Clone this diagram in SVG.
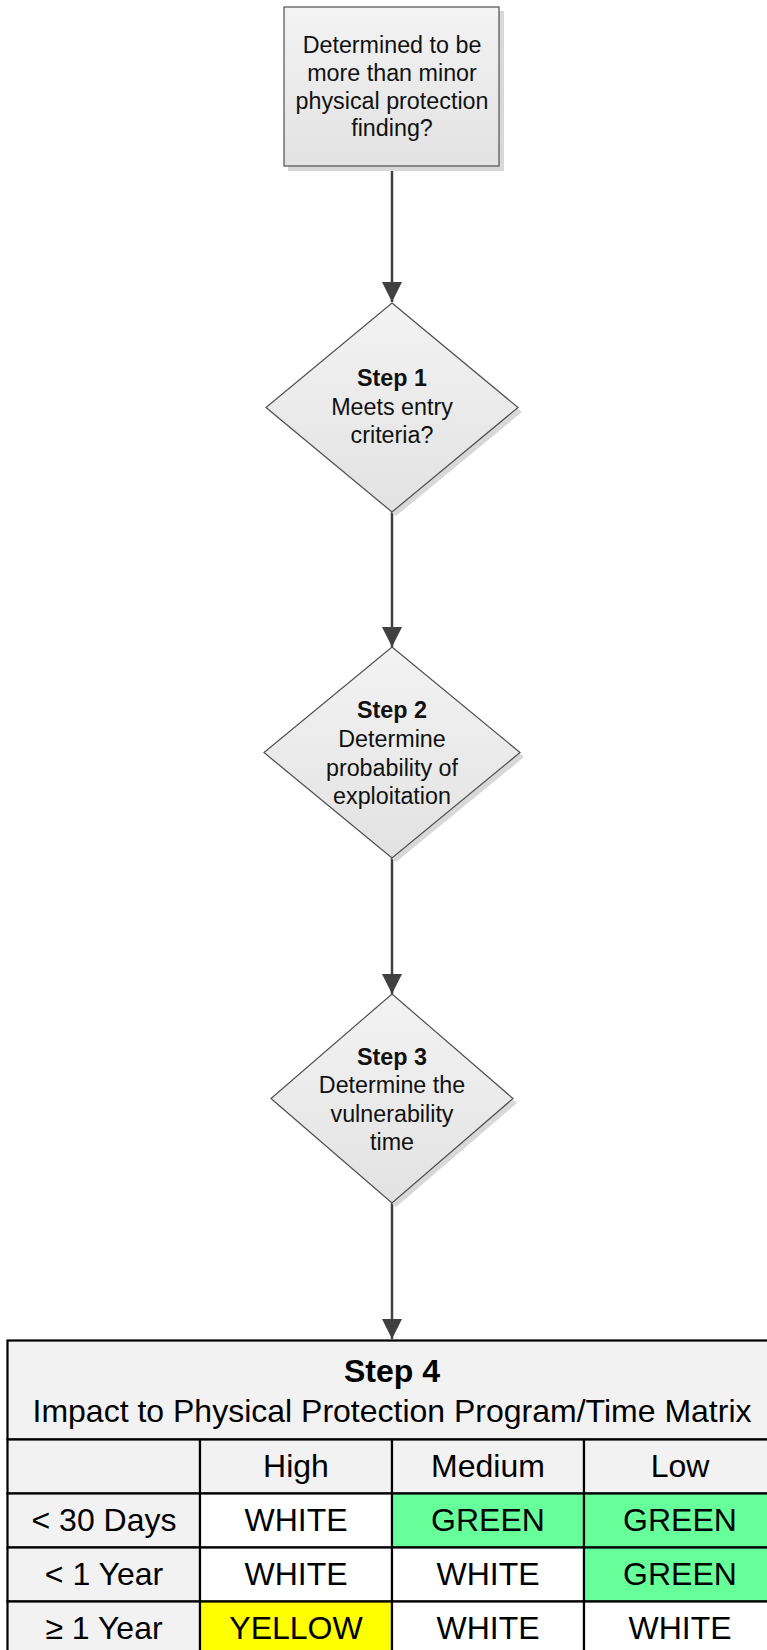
<svg xmlns="http://www.w3.org/2000/svg" width="767" height="1650" viewBox="0 0 767 1650">
  <defs>
    <linearGradient id="shapeFill" x1="0" y1="0" x2="0" y2="1">
      <stop offset="0" stop-color="#f3f3f3"/>
      <stop offset="1" stop-color="#e2e2e2"/>
    </linearGradient>
    <marker id="arrow" markerWidth="20" markerHeight="20" refX="20" refY="10" orient="auto" markerUnits="userSpaceOnUse" viewBox="0 0 20 20">
      <path d="M0,0 L20,10 L0,20 Z" fill="#404040"/>
    </marker>
    <style>
      .shape { fill: url(#shapeFill); stroke: #505050; stroke-width: 1.2; }
      .shadow { fill: #d8d8d8; }
      .lbl { font-family: "Liberation Sans", Arial, sans-serif; font-size: 23.3px; fill: #111; text-anchor: middle; }
      .bold { font-weight: bold; }
      .conn { stroke: #404040; stroke-width: 2.5; fill: none; }
      .cell { stroke: #000; stroke-width: 2.2; }
      .tt { font-family: "Liberation Sans", Arial, sans-serif; font-size: 32px; fill: #000; text-anchor: middle; }
    </style>
  </defs>

  <!-- connectors -->
  <g id="connectors">
    <line class="conn" x1="392" y1="166" x2="392" y2="302" marker-end="url(#arrow)"/>
    <line class="conn" x1="392" y1="512" x2="392" y2="647" marker-end="url(#arrow)"/>
    <line class="conn" x1="392" y1="858" x2="392" y2="994" marker-end="url(#arrow)"/>
    <line class="conn" x1="392" y1="1203" x2="392" y2="1339" marker-end="url(#arrow)"/>
  </g>

  <!-- start box -->
  <g id="start">
    <rect class="shadow" x="288" y="11" width="216" height="160"/>
    <rect class="shape" x="284" y="7" width="215" height="159"/>
    <text class="lbl" x="392" y="53">Determined to be</text>
    <text class="lbl" x="392" y="81">more than minor</text>
    <text class="lbl" x="392" y="109">physical protection</text>
    <text class="lbl" x="392" y="136">finding?</text>
  </g>

  <!-- step 1 -->
  <g id="step1">
    <polygon class="shadow" points="396,307 522,412 396,516 270,412"/>
    <polygon class="shape" points="392,303 518,407.5 392,512 266,407.5"/>
    <text class="lbl bold" x="392" y="386">Step 1</text>
    <text class="lbl" x="392" y="415">Meets entry</text>
    <text class="lbl" x="392" y="443">criteria?</text>
  </g>

  <!-- step 2 -->
  <g id="step2">
    <polygon class="shadow" points="396,651 524,757 396,862 268,757"/>
    <polygon class="shape" points="392,647 520,752.5 392,858 264,752.5"/>
    <text class="lbl bold" x="392" y="718">Step 2</text>
    <text class="lbl" x="392" y="747">Determine</text>
    <text class="lbl" x="392" y="776">probability of</text>
    <text class="lbl" x="392" y="804">exploitation</text>
  </g>

  <!-- step 3 -->
  <g id="step3">
    <polygon class="shadow" points="396,998 517,1103 396,1207 275,1103"/>
    <polygon class="shape" points="392,994 513,1098.5 392,1203 271,1098.5"/>
    <text class="lbl bold" x="392" y="1065">Step 3</text>
    <text class="lbl" x="392" y="1093">Determine the</text>
    <text class="lbl" x="392" y="1122">vulnerability</text>
    <text class="lbl" x="392" y="1150">time</text>
  </g>

  <!-- step 4 matrix -->
  <g id="step4">
    <!-- title row -->
    <rect class="cell" x="7.5" y="1340.5" width="769" height="99" fill="#f2f2f2"/>
    <!-- header row -->
    <rect class="cell" x="7.5" y="1439.5" width="192.5" height="54" fill="#f2f2f2"/>
    <rect class="cell" x="200" y="1439.5" width="192" height="54" fill="#f2f2f2"/>
    <rect class="cell" x="392" y="1439.5" width="192" height="54" fill="#f2f2f2"/>
    <rect class="cell" x="584" y="1439.5" width="192" height="54" fill="#f2f2f2"/>
    <!-- < 30 days -->
    <rect class="cell" x="7.5" y="1493.5" width="192.5" height="54" fill="#f2f2f2"/>
    <rect class="cell" x="200" y="1493.5" width="192" height="54" fill="#ffffff"/>
    <rect class="cell" x="392" y="1493.5" width="192" height="54" fill="#66ff99"/>
    <rect class="cell" x="584" y="1493.5" width="192" height="54" fill="#66ff99"/>
    <!-- < 1 year -->
    <rect class="cell" x="7.5" y="1547.5" width="192.5" height="54" fill="#f2f2f2"/>
    <rect class="cell" x="200" y="1547.5" width="192" height="54" fill="#ffffff"/>
    <rect class="cell" x="392" y="1547.5" width="192" height="54" fill="#ffffff"/>
    <rect class="cell" x="584" y="1547.5" width="192" height="54" fill="#66ff99"/>
    <!-- >= 1 year -->
    <rect class="cell" x="7.5" y="1601.5" width="192.5" height="54" fill="#f2f2f2"/>
    <rect class="cell" x="200" y="1601.5" width="192" height="54" fill="#ffff00"/>
    <rect class="cell" x="392" y="1601.5" width="192" height="54" fill="#ffffff"/>
    <rect class="cell" x="584" y="1601.5" width="192" height="54" fill="#ffffff"/>

    <text class="tt bold" x="392" y="1382">Step 4</text>
    <text class="tt" x="392" y="1422">Impact to Physical Protection Program/Time Matrix</text>

    <text class="tt" x="296" y="1477">High</text>
    <text class="tt" x="488" y="1477">Medium</text>
    <text class="tt" x="680" y="1477">Low</text>

    <text class="tt" x="104" y="1531">&lt; 30 Days</text>
    <text class="tt" x="296" y="1531">WHITE</text>
    <text class="tt" x="488" y="1531">GREEN</text>
    <text class="tt" x="680" y="1531">GREEN</text>

    <text class="tt" x="104" y="1585">&lt; 1 Year</text>
    <text class="tt" x="296" y="1585">WHITE</text>
    <text class="tt" x="488" y="1585">WHITE</text>
    <text class="tt" x="680" y="1585">GREEN</text>

    <text class="tt" x="104" y="1639">≥ 1 Year</text>
    <text class="tt" x="296" y="1639">YELLOW</text>
    <text class="tt" x="488" y="1639">WHITE</text>
    <text class="tt" x="680" y="1639">WHITE</text>
  </g>
</svg>
